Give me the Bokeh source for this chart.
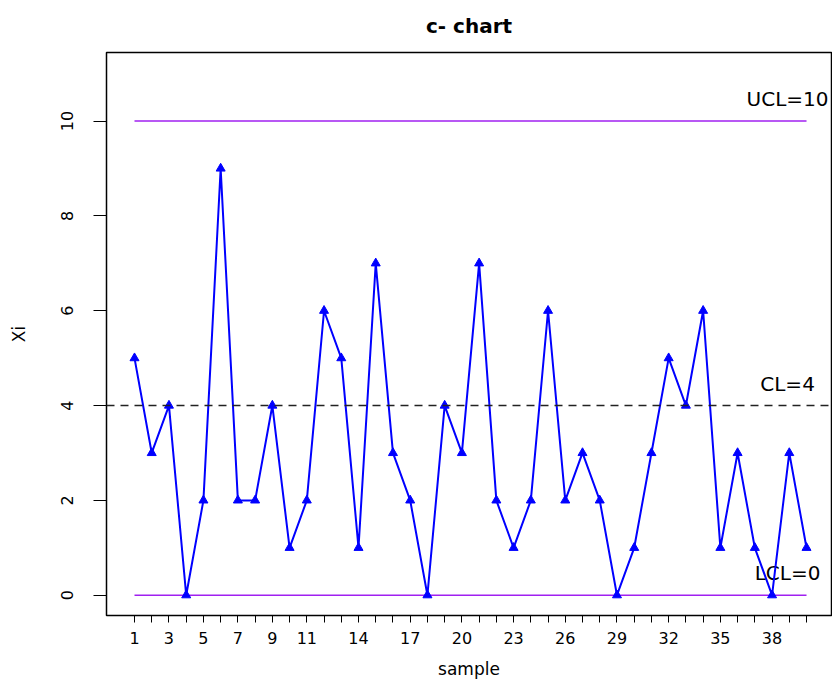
from bokeh.plotting import figure
from bokeh.models import Range1d, FixedTicker, Span
from bokeh.core.properties import value
from bokeh.embed import file_html
from bokeh.resources import INLINE

# ---- data ----
samples = list(range(1, 41))
counts = [5, 3, 4, 0, 2, 9, 2, 2, 4, 1, 2, 6, 5, 1, 7, 3, 2, 0, 4, 3,
          7, 2, 1, 2, 6, 2, 3, 2, 0, 1, 3, 5, 4, 6, 1, 3, 1, 0, 3, 1]
ucl = 10
cl = 4
lcl = 0
x_tick_labels = [1, 3, 5, 7, 9, 11, 14, 17, 20, 23, 26, 29, 32, 35, 38]
y_ticks = [0, 2, 4, 6, 8, 10]
limit_labels = ["UCL=10", "CL=4", "LCL=0"]
limit_values = [ucl, cl, lcl]
title_text = "c- chart"

# ---- style / positions ----
FONT = "DejaVu Sans"
label_x = 38.9
label_dy = 0.46

p = figure(width=832, height=682, output_backend="svg", toolbar_location=None,
           x_range=Range1d(-0.625, 41.45), y_range=Range1d(-0.428, 11.446),
           min_border_left=106, min_border_right=1, min_border_top=52,
           min_border_bottom=67)

p.title.text = title_text
p.title.align = "center"
p.title.vertical_align = "top"
p.title.text_font = FONT
p.title.text_font_size = "20px"
p.title.text_font_style = "bold"
p.title.text_color = "black"
p.title.standoff = 26

p.grid.visible = False
p.outline_line_color = "black"
p.outline_line_width = 1.5
p.background_fill_color = "white"
p.border_fill_color = "white"

# x axis
p.xaxis.ticker = FixedTicker(ticks=samples)
p.xaxis.major_label_overrides = {s: (str(s) if s in x_tick_labels else "") for s in samples}
p.xaxis.axis_label = "sample"
# y axis
p.yaxis.ticker = FixedTicker(ticks=y_ticks)
p.yaxis.major_label_orientation = "vertical"
p.yaxis.axis_label = "Xi"

for ax in (p.xaxis[0], p.yaxis[0]):
    ax.axis_line_color = None
    ax.major_tick_in = 0
    ax.minor_tick_line_color = None
    ax.major_tick_line_color = "black"
    ax.major_label_text_font = FONT
    ax.major_label_text_font_size = "16px"
    ax.major_label_text_color = "black"
    ax.axis_label_text_font = FONT
    ax.axis_label_text_font_size = "17px"
    ax.axis_label_text_font_style = "normal"
    ax.axis_label_text_color = "black"

p.xaxis.major_tick_out = 7
p.xaxis.major_label_standoff = 9
p.xaxis.axis_label_standoff = 12
p.yaxis.major_tick_out = 13
p.yaxis.major_label_standoff = 20
p.yaxis.axis_label_standoff = 30

# control limits
p.line([samples[0], samples[-1]], [ucl, ucl], color="#A020F0", line_width=1.5)
p.line([samples[0], samples[-1]], [lcl, lcl], color="#A020F0", line_width=1.5)
p.add_layout(Span(location=cl, dimension="width", line_color="#222222",
                  line_width=1.5, line_dash="8 6"))

p.text(x=[label_x] * len(limit_values), y=[v + label_dy for v in limit_values],
       text=limit_labels, text_align="center", text_baseline="middle",
       text_font=value(FONT), text_font_size="20px", text_color="black")

# data
p.line(samples, counts, color="blue", line_width=2)
p.scatter(samples, counts, marker="triangle", size=9, color="blue")

open("out.html", "w").write(file_html(p, INLINE))
